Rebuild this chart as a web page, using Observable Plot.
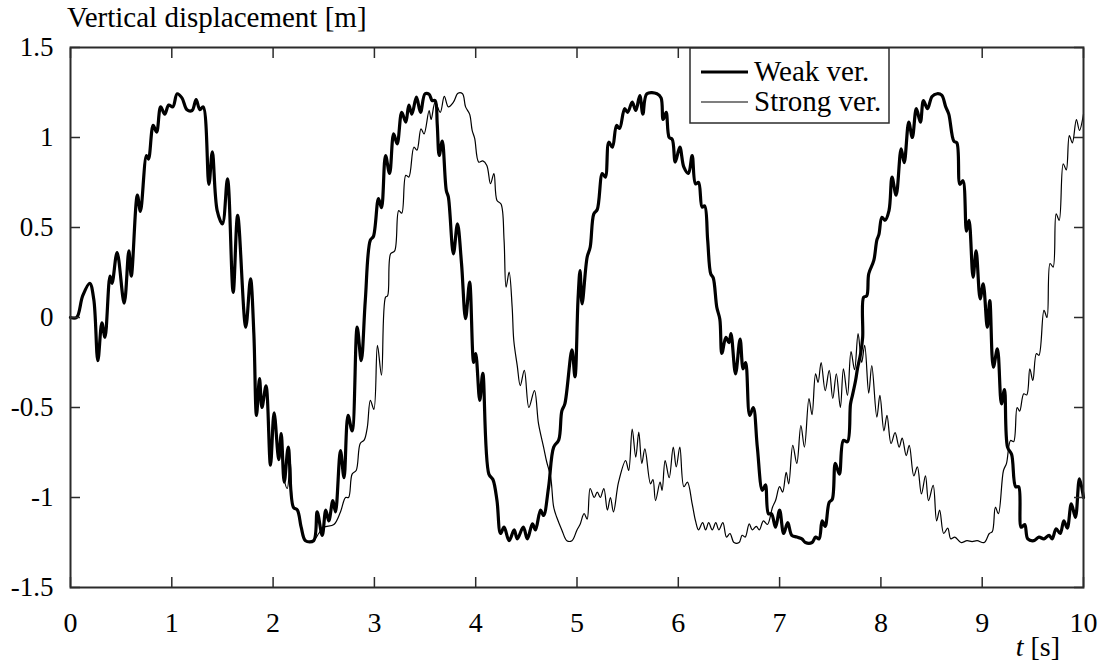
<!DOCTYPE html>
<html>
<head>
<meta charset="utf-8">
<script src="https://cdn.jsdelivr.net/npm/d3@7"></script>
<script src="https://cdn.jsdelivr.net/npm/@observablehq/plot@0.6"></script>
<style>
  html, body { margin: 0; padding: 0; background: #fff; }
  #chart { position: relative; width: 1104px; height: 665px; }
  #chart svg text { font-family: "Liberation Serif", "Times New Roman", Times, serif; }
</style>
</head>
<body>
<div id="chart"></div>
<script>
// ---- data ----
const xTicks = [0, 1, 2, 3, 4, 5, 6, 7, 8, 9, 10];
const yTicks = [-1.5, -1, -0.5, 0, 0.5, 1, 1.5];
const seriesNames = ["Weak ver.", "Strong ver."];

const weakT = [0,0.06,0.12,0.19,0.23,0.27,0.31,0.34,0.39,0.41,0.46,0.53,0.576,0.60,0.66,0.69,0.75,0.77,0.816,0.85,0.89,0.93,0.97,1.01,1.053,1.10,1.15,1.20,1.24,1.277,1.31,1.366,1.40,1.448,1.50,1.55,1.606,1.65,1.73,1.777,1.81,1.836,1.866,1.89,1.93,1.974,2.01,2.056,2.08,2.11,2.15,2.20,2.24,2.277,2.32,2.40,2.435,2.485,2.52,2.55,2.59,2.616,2.665,2.70,2.74,2.78,2.83,2.87,2.91,2.96,2.99,3.04,3.07,3.11,3.15,3.19,3.225,3.27,3.31,3.34,3.37,3.415,3.455,3.50,3.54,3.57,3.60,3.62,3.64,3.67,3.71,3.73,3.78,3.82,3.86,3.90,3.94,3.98,4.00,4.04,4.07,4.13,4.17,4.21,4.245,4.28,4.33,4.38,4.41,4.47,4.51,4.56,4.59,4.64,4.67,4.72,4.77,4.82,4.85,4.88,4.95,4.98,5.01,5.03,5.05,5.10,5.13,5.166,5.20,5.25,5.28,5.314,5.35,5.39,5.42,5.47,5.50,5.545,5.58,5.62,5.65,5.69,5.79,5.83,5.85,5.88,5.91,5.94,5.97,6.015,6.055,6.10,6.137,6.17,6.20,6.235,6.26,6.29,6.32,6.345,6.38,6.41,6.43,6.47,6.50,6.52,6.565,6.61,6.64,6.665,6.705,6.74,6.78,6.83,6.86,6.89,6.92,6.96,7.00,7.04,7.08,7.12,7.17,7.22,7.255,7.32,7.355,7.39,7.42,7.45,7.49,7.52,7.55,7.59,7.63,7.67,7.70,7.72,7.75,7.77,7.80,7.82,7.83,7.86,7.88,7.93,7.96,7.98,8.01,8.04,8.08,8.11,8.15,8.20,8.23,8.275,8.31,8.35,8.39,8.42,8.46,8.505,8.555,8.60,8.64,8.67,8.72,8.75,8.78,8.81,8.845,8.87,8.91,8.94,8.98,9.01,9.05,9.075,9.11,9.15,9.19,9.22,9.25,9.29,9.33,9.36,9.385,9.42,9.45,9.51,9.56,9.61,9.66,9.69,9.73,9.77,9.806,9.84,9.88,9.92,9.96,10.0];
const weakY = [0,0,0.12,0.19,0.1,-0.24,-0.03,-0.11,0.23,0.19,0.36,0.08,0.37,0.23,0.68,0.59,0.90,0.88,1.067,1.03,1.17,1.13,1.18,1.17,1.243,1.22,1.154,1.15,1.21,1.155,1.17,0.74,0.92,0.594,0.52,0.77,0.14,0.567,-0.054,0.215,-0.09,-0.544,-0.34,-0.50,-0.38,-0.82,-0.53,-0.79,-0.645,-0.915,-0.72,-1.054,-1.07,-1.165,-1.24,-1.24,-1.08,-1.21,-1.07,-1.13,-1.017,-1.08,-0.74,-0.89,-0.544,-0.63,-0.054,-0.24,0.094,0.43,0.45,0.66,0.61,0.90,0.80,1.02,0.965,1.14,1.085,1.18,1.13,1.224,1.14,1.243,1.24,1.205,1.205,1.076,0.90,0.98,0.705,0.67,0.354,0.52,0.30,-0.007,0.196,-0.25,-0.20,-0.46,-0.31,-0.87,-0.90,-1.017,-1.20,-1.165,-1.24,-1.18,-1.23,-1.165,-1.23,-1.146,-1.18,-1.07,-1.10,-0.94,-0.72,-0.68,-0.52,-0.48,-0.18,-0.33,0.10,0.26,0.076,0.335,0.39,0.576,0.60,0.80,0.78,0.974,0.946,1.067,1.05,1.16,1.14,1.196,1.15,1.233,1.13,1.243,1.243,1.22,1.10,1.14,1.0,0.99,0.863,0.946,0.835,0.80,0.90,0.743,0.75,0.613,0.62,0.43,0.243,0.22,0.057,-0.01,-0.20,-0.11,-0.14,-0.09,-0.313,-0.12,-0.285,-0.25,-0.544,-0.50,-0.72,-0.96,-0.93,-1.09,-1.09,-1.165,-1.07,-1.20,-1.14,-1.21,-1.22,-1.23,-1.25,-1.25,-1.22,-1.23,-1.13,-1.16,-1.026,-1.01,-0.81,-0.87,-0.683,-0.69,-0.48,-0.43,-0.35,-0.28,-0.20,-0.11,0.113,0.12,0.243,0.317,0.43,0.46,0.557,0.54,0.594,0.78,0.68,0.937,0.86,1.085,1.0,1.16,1.085,1.205,1.16,1.228,1.243,1.235,1.17,1.13,0.98,0.97,0.74,0.76,0.48,0.54,0.224,0.37,0.104,0.187,-0.054,0.094,-0.276,-0.174,-0.48,-0.40,-0.72,-0.76,-0.94,-0.94,-1.165,-1.15,-1.23,-1.24,-1.22,-1.23,-1.21,-1.23,-1.174,-1.20,-1.13,-1.17,-1.035,-1.11,-0.896,-1.0];

const strongT = [0,0.06,0.12,0.19,0.23,0.27,0.31,0.34,0.39,0.41,0.46,0.53,0.576,0.60,0.66,0.69,0.75,0.77,0.816,0.85,0.89,0.93,0.97,1.01,1.053,1.10,1.15,1.20,1.24,1.277,1.31,1.366,1.40,1.448,1.50,1.55,1.606,1.65,1.73,1.777,1.81,1.836,1.866,1.89,1.93,1.974,2.01,2.056,2.08,2.11,2.14,2.17,2.20,2.24,2.277,2.32,2.40,2.45,2.50,2.60,2.665,2.715,2.745,2.78,2.82,2.86,2.90,2.93,2.96,2.995,3.03,3.07,3.11,3.13,3.16,3.20,3.24,3.27,3.31,3.34,3.39,3.42,3.46,3.49,3.54,3.56,3.60,3.65,3.69,3.73,3.78,3.825,3.87,3.90,3.94,3.965,3.99,4.03,4.07,4.11,4.146,4.18,4.21,4.25,4.28,4.30,4.33,4.36,4.376,4.41,4.44,4.48,4.525,4.58,4.62,4.67,4.70,4.74,4.77,4.80,4.85,4.90,4.95,5.00,5.03,5.07,5.10,5.13,5.17,5.20,5.23,5.265,5.30,5.33,5.36,5.41,5.48,5.51,5.545,5.58,5.61,5.64,5.67,5.726,5.75,5.775,5.82,5.84,5.87,5.91,5.95,5.98,6.015,6.055,6.09,6.137,6.17,6.20,6.24,6.27,6.30,6.335,6.37,6.40,6.44,6.476,6.51,6.55,6.60,6.63,6.66,6.70,6.73,6.77,6.80,6.84,6.88,6.93,6.96,7.00,7.03,7.065,7.09,7.13,7.17,7.21,7.245,7.29,7.32,7.355,7.38,7.41,7.45,7.49,7.525,7.56,7.60,7.63,7.67,7.705,7.74,7.775,7.81,7.84,7.88,7.91,7.96,7.99,8.03,8.06,8.10,8.14,8.18,8.21,8.25,8.28,8.325,8.36,8.40,8.44,8.47,8.516,8.55,8.58,8.62,8.66,8.69,8.73,8.79,8.85,8.90,8.95,9.02,9.07,9.10,9.13,9.16,9.21,9.24,9.28,9.31,9.345,9.37,9.41,9.44,9.47,9.50,9.535,9.56,9.61,9.64,9.67,9.70,9.73,9.76,9.80,9.83,9.86,9.89,9.93,9.96,10.0];
const strongY = [0,0,0.12,0.19,0.1,-0.24,-0.03,-0.11,0.23,0.19,0.36,0.08,0.37,0.23,0.68,0.59,0.90,0.88,1.067,1.03,1.17,1.13,1.18,1.17,1.243,1.22,1.154,1.15,1.21,1.155,1.17,0.74,0.92,0.594,0.52,0.77,0.14,0.567,-0.054,0.215,-0.09,-0.544,-0.34,-0.50,-0.38,-0.82,-0.53,-0.79,-0.66,-0.90,-0.95,-0.80,-1.05,-1.07,-1.165,-1.24,-1.24,-1.20,-1.165,-1.15,-1.08,-1.0,-1.0,-0.87,-0.85,-0.70,-0.68,-0.61,-0.46,-0.51,-0.155,-0.32,0.113,0.12,0.354,0.37,0.594,0.58,0.79,0.78,0.946,0.93,1.048,1.02,1.15,1.10,1.196,1.14,1.228,1.17,1.196,1.246,1.243,1.17,1.13,1.04,0.995,0.863,0.87,0.845,0.743,0.80,0.65,0.63,0.43,0.168,0.252,0.057,-0.128,-0.267,-0.378,-0.294,-0.50,-0.406,-0.59,-0.72,-0.80,-0.887,-1.054,-1.11,-1.18,-1.24,-1.24,-1.18,-1.15,-1.09,-1.12,-0.95,-1.0,-0.97,-1.0,-0.95,-1.07,-1.0,-1.08,-0.915,-0.795,-0.85,-0.62,-0.776,-0.637,-0.81,-0.73,-0.924,-0.90,-1.017,-0.915,-0.96,-0.795,-0.89,-0.72,-0.83,-0.72,-0.94,-0.915,-1.035,-1.13,-1.18,-1.14,-1.18,-1.14,-1.18,-1.14,-1.18,-1.14,-1.22,-1.20,-1.25,-1.25,-1.21,-1.22,-1.146,-1.18,-1.16,-1.18,-1.13,-1.15,-1.054,-1.017,-0.94,-0.97,-0.86,-0.924,-0.71,-0.81,-0.60,-0.72,-0.45,-0.54,-0.313,-0.36,-0.25,-0.406,-0.294,-0.45,-0.313,-0.50,-0.285,-0.433,-0.19,-0.29,-0.09,-0.25,-0.155,-0.42,-0.267,-0.554,-0.433,-0.63,-0.544,-0.70,-0.64,-0.72,-0.67,-0.767,-0.71,-0.88,-0.83,-0.98,-0.88,-1.017,-0.933,-1.13,-1.07,-1.20,-1.17,-1.23,-1.22,-1.25,-1.24,-1.245,-1.24,-1.25,-1.20,-1.19,-1.054,-1.09,-0.85,-0.81,-0.683,-0.69,-0.50,-0.52,-0.424,-0.43,-0.285,-0.35,-0.20,-0.21,0.04,0.0,0.30,0.28,0.576,0.54,0.854,0.82,1.01,0.97,1.10,1.04,1.13];

// ---- build tables ----
const weak = weakT.map((t, i) => ({t, v: weakY[i]}));
const strong = strongT.map((t, i) => ({t, v: strongY[i]}));

const FONT = "Liberation Serif, Times New Roman, Times, serif";
const INK = "#000";
const FRAME = "#2b2b2b";

const chart = Plot.plot({
  width: 1104,
  height: 665,
  marginLeft: 70,
  marginRight: 21,
  marginTop: 47,
  marginBottom: 78,
  style: {fontFamily: FONT, fontSize: "27px", background: "#fff", color: INK, overflow: "visible"},
  x: {domain: [0, 10], label: null},
  y: {domain: [-1.5, 1.5], label: null},
  marks: [
    Plot.line(strong, {x: "t", y: "v", stroke: INK, strokeWidth: 1.2, curve: "catmull-rom"}),
    Plot.line(weak, {x: "t", y: "v", stroke: INK, strokeWidth: 3.2, curve: "catmull-rom"}),
    Plot.axisX(xTicks, {anchor: "bottom", tickSize: 0, tickPadding: 25, tickFormat: d => String(d), fontSize: 28, fill: INK}),
    Plot.axisX(xTicks, {anchor: "bottom", tickSize: -10, fill: "none", stroke: FRAME, strokeWidth: 1.5}),
    Plot.axisX(xTicks, {anchor: "top", tickSize: -10, fill: "none", stroke: FRAME, strokeWidth: 1.5}),
    Plot.axisY(yTicks, {anchor: "left", tickSize: 0, tickPadding: 17, tickFormat: d => String(d), fontSize: 27, fill: INK}),
    Plot.axisY(yTicks, {anchor: "left", tickSize: -10, fill: "none", stroke: FRAME, strokeWidth: 1.5}),
    Plot.axisY(yTicks, {anchor: "right", tickSize: -10, fill: "none", stroke: FRAME, strokeWidth: 1.5}),
    Plot.frame({stroke: FRAME, strokeWidth: 2})
  ]
});

document.getElementById("chart").appendChild(chart);

// ---- texts and legend ----
const svg = d3.select(chart);
svg.append("text")
  .attr("x", 67).attr("y", 27).attr("text-anchor", "start")
  .attr("font-size", 29).attr("fill", INK)
  .text("Vertical displacement [m]");

const tl = svg.append("text")
  .attr("x", 1060).attr("y", 656).attr("text-anchor", "end")
  .attr("font-size", 28).attr("fill", INK);
tl.append("tspan").attr("font-style", "italic").text("t");
tl.append("tspan").text(" [s]");

const lg = svg.append("g");
lg.append("rect").attr("x", 690).attr("y", 48).attr("width", 199).attr("height", 75)
  .attr("fill", "#fff").attr("stroke", FRAME).attr("stroke-width", 1.5);
const lgWidths = [3.2, 1.2];
seriesNames.forEach((name, i) => {
  const cy = 72 + i * 30;
  lg.append("line").attr("x1", 701).attr("x2", 748).attr("y1", cy).attr("y2", cy)
    .attr("stroke", INK).attr("stroke-width", lgWidths[i]);
  lg.append("text").attr("x", 754).attr("y", cy + 9).attr("text-anchor", "start")
    .attr("font-size", 29).attr("fill", INK)
    .text(name);
});
</script>
</body>
</html>
